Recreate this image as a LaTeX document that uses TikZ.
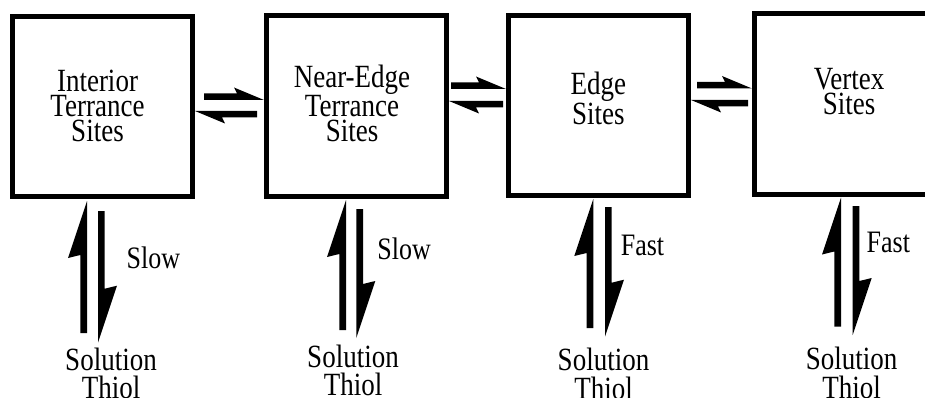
\documentclass[tikz,border=0pt]{standalone}
\usepackage{fontspec}
\setmainfont{Liberation Serif}
\usetikzlibrary{calc}

% One-sided (harpoon) arrow: filled shaft with a single barb.
% #1 barb length, #2 shaft width, #3 barb reach, #4 tail, #5 tip.
% The shaft and barb lie on the left of the direction of travel.
\newcommand\harpoon[5]{%
  \path (#4); \pgfgetlastxy{\hax}{\hay}%
  \path (#5); \pgfgetlastxy{\hbx}{\hby}%
  \pgfmathsetmacro\hlen{veclen(\hbx-\hax,\hby-\hay)}%
  \pgfmathsetmacro\hang{atan2(\hby-\hay,\hbx-\hax)}%
  \pgfmathsetmacro\hback{#1-3}%
  \fill[shift={(#5)}, rotate=\hang]
    (0pt,0pt) -- (-\hlen pt,0pt) -- (-\hlen pt,#2pt) -- (-\hback pt,#2pt)
    -- (-#1pt,#3pt) -- cycle;
}
\newcommand\hharp[2]{\harpoon{30}{6.5}{12.5}{#1}{#2}}
\newcommand\vharp[2]{\harpoon{57}{6.7}{19}{#1}{#2}}

\begin{document}
\begin{tikzpicture}[x=1pt,y=-1pt,
  site/.style={draw, line width=5pt, minimum width=180pt, minimum height=180pt, inner sep=0pt},
  sitelabel/.style={font=\fontsize{27}{21.1}\selectfont, align=center, inner sep=0pt, yscale=1.2},
  pool/.style={font=\fontsize{27}{23.6}\selectfont, align=center, inner sep=0pt, yscale=1.2},
  rate/.style={font=\fontsize{26}{26}\selectfont, inner sep=0pt, yscale=1.2}]
\clip (0,0) rectangle (925,398);

% adsorption sites
\node[site] (b1) at (102.5,106.5) {};
\node[site] (b2) at (356.5,106) {};
\node[site] (b3) at (598.5,105.5) {};
\node[site] (b4) at (844.5,104) {};

\node[sitelabel] (t1) at (97.5,106) {Interior\\Terrance\\Sites};
\node[sitelabel] (t2) at (352,103.3) {Near-Edge\\Terrance\\Sites};
\node[sitelabel] (t3) at (598.3,98.3) {Edge\\Sites};
\node[sitelabel] (t4) at (849,91.3) {Vertex\\Sites};

% thiol in solution
\node[pool] (s1) at (111,373.4) {Solution\\Thiol};
\node[pool] (s2) at (353,370.7) {Solution\\Thiol};
\node[pool] (s3) at (603.5,374) {Solution\\Thiol};
\node[pool] (s4) at (851.5,372.8) {Solution\\Thiol};

% exchange rates
\node[rate] (k1) at (153.3,257.5) {Slow};
\node[rate] (k2) at (404.2,249) {Slow};
\node[rate] (k3) at (642.5,245) {Fast};
\node[rate] (k4) at (888.3,242.5) {Fast};

% site-to-site equilibria
\coordinate (f1) at ($(b2.west)+(0,-6)$);
\coordinate (f1s) at ($(b1.east |- f1)+(9,0)$);
\coordinate (r1) at ($(b1.east)+(0,4.5)$);
\coordinate (r1s) at ($(b2.west |- r1)+(-7,0)$);
\coordinate (f2) at ($(b3.west)+(0,-16.5)$);
\coordinate (f2s) at ($(b2.east |- f2)+(2,0)$);
\coordinate (r2) at ($(b2.east)+(0,-5)$);
\coordinate (r2s) at ($(b3.west |- r2)+(-3,0)$);
\coordinate (f3) at ($(b4.west)+(0,-15.5)$);
\coordinate (f3s) at ($(b3.east |- f3)+(6,0)$);
\coordinate (r3) at ($(b3.east)+(0,-5.5)$);
\coordinate (r3s) at ($(b4.west |- r3)+(-4,0)$);
\hharp{f1s}{f1}
\hharp{r1s}{r1}
\hharp{f2s}{f2}
\hharp{r2s}{r2}
\hharp{f3s}{f3}
\hharp{r3s}{r3}

% solution-to-site equilibria
\coordinate (u1) at ($(b1.south)+(-15.5,2)$);
\coordinate (u1s) at ($(u1)+(0,132)$);
\coordinate (d1s) at ($(b1.south)+(-4.5,12)$);
\coordinate (d1) at ($(d1s)+(0,131.7)$);
\coordinate (u2) at ($(b2.south)+(-10.5,1.5)$);
\coordinate (u2s) at ($(u2)+(0,130)$);
\coordinate (d2s) at ($(b2.south)+(-0.2,10.5)$);
\coordinate (d2) at ($(d2s)+(0,129)$);
\coordinate (u3) at ($(b3.south)+(-5.2,1)$);
\coordinate (u3s) at ($(u3)+(0,129)$);
\coordinate (d3s) at ($(b3.south)+(6.5,9)$);
\coordinate (d3) at ($(d3s)+(0,129.7)$);
\coordinate (u4) at ($(b4.south)+(-3.5,1)$);
\coordinate (u4s) at ($(u4)+(0,129.2)$);
\coordinate (d4s) at ($(b4.south)+(8.2,9.5)$);
\coordinate (d4) at ($(d4s)+(0,129)$);
\vharp{u1s}{u1}
\vharp{d1s}{d1}
\vharp{u2s}{u2}
\vharp{d2s}{d2}
\vharp{u3s}{u3}
\vharp{d3s}{d3}
\vharp{u4s}{u4}
\vharp{d4s}{d4}
\end{tikzpicture}
\end{document}
